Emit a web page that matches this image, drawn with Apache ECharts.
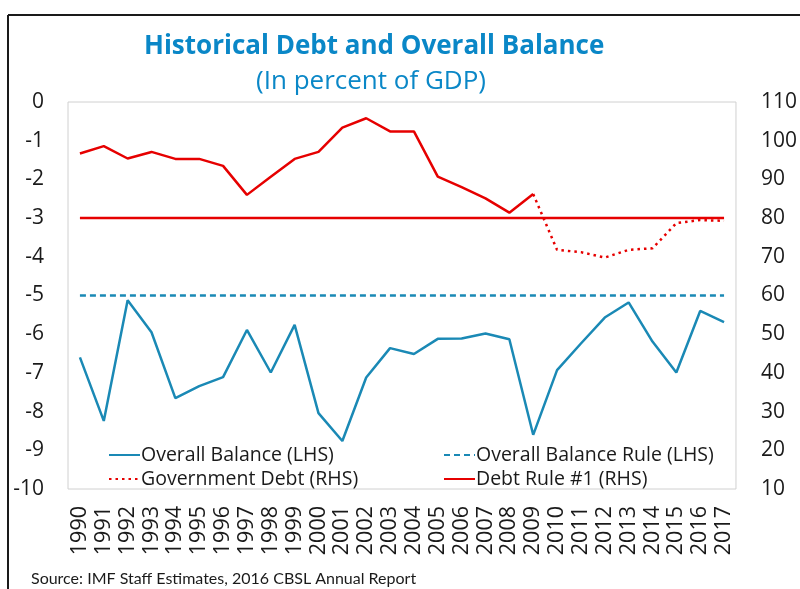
<!DOCTYPE html>
<html>
<head>
<meta charset="utf-8">
<script src="https://cdn.jsdelivr.net/npm/echarts@6/dist/echarts.min.js"></script>
<style>html,body{margin:0;padding:0;background:#fff}#c{width:800px;height:589px}</style>
</head>
<body>
<div id="c"></div>
<script>
var years = ['1990','1991','1992','1993','1994','1995','1996','1997','1998','1999','2000','2001','2002','2003','2004','2005','2006','2007','2008','2009','2010','2011','2012','2013','2014','2015','2016','2017'];
var overallBalance = [-6.6,-8.24,-5.12,-5.95,-7.65,-7.34,-7.11,-5.89,-6.99,-5.76,-8.04,-8.76,-7.12,-6.36,-6.51,-6.12,-6.11,-5.98,-6.13,-8.6,-6.93,-6.24,-5.57,-5.18,-6.19,-6.99,-5.4,-5.69];
var balanceRule = [-5,-5,-5,-5,-5,-5,-5,-5,-5,-5,-5,-5,-5,-5,-5,-5,-5,-5,-5,-5,-5,-5,-5,-5,-5,-5,-5,-5];
var debtActual = [96.7,98.6,95.4,97.1,95.3,95.3,93.5,86.0,90.7,95.3,97.1,103.4,105.8,102.4,102.4,90.7,88.0,85.1,81.4,86.2,null,null,null,null,null,null,null,null];
var debtProjected = [null,null,null,null,null,null,null,null,null,null,null,null,null,null,null,null,null,null,null,86.2,71.8,71.2,69.8,71.8,72.2,78.7,79.5,79.3];
var debtRule = [80,80,80,80,80,80,80,80,80,80,80,80,80,80,80,80,80,80,80,80,80,80,80,80,80,80,80,80];
var leftTicks = {min: -10, max: 0, interval: 1};
var rightTicks = {min: 10, max: 110, interval: 10};

var BLUE = '#1a89b5', RED = '#e60000', FONT = 'Open Sans';
var legendBase = {orient: 'vertical', top: 440, itemWidth: 31, itemHeight: 12, itemGap: 4,
  itemStyle: {opacity: 0},
  textStyle: {fontFamily: FONT, fontSize: 19.5, color: '#1a1a1a', lineHeight: 20, padding: [0,0,0,-4]}};
var chart = echarts.init(document.getElementById('c'), null, {renderer: 'canvas'});
chart.setOption({
  animation: false,
  backgroundColor: '#fff',
  graphic: [
    {type: 'line', shape: {x1: 8, y1: 15, x2: 800, y2: 15}, style: {stroke: '#1a1a1a', lineWidth: 2}},
    {type: 'line', shape: {x1: 8, y1: 15, x2: 8, y2: 589}, style: {stroke: '#1a1a1a', lineWidth: 2}},
    {type: 'text', left: 144, top: 34, style: {text: 'Historical Debt and Overall Balance', fill: '#0a87c7', font: 'bold 26px "Open Sans"'}},
    {type: 'text', left: 256, top: 69, style: {text: '(In percent of GDP)', fill: '#0a87c7', font: '26px "Open Sans"'}},
    {type: 'text', left: 31, top: 571, style: {text: 'Source: IMF Staff Estimates, 2016 CBSL Annual Report', fill: '#1a1a1a', font: '16px Lato'}}
  ],
  grid: {left: 68, right: 61, top: 102, bottom: 100, show: true, borderColor: '#d0d0d0', borderWidth: 1, containLabel: false},
  legend: [
    Object.assign({left: 103, data: ['Overall Balance (LHS)', 'Government Debt (RHS)']}, legendBase),
    Object.assign({left: 438, data: ['Overall Balance Rule (LHS)', 'Debt Rule #1 (RHS)']}, legendBase)
  ],
  xAxis: {
    type: 'category', data: years, boundaryGap: true,
    axisLine: {show: false}, axisTick: {show: false}, splitLine: {show: false},
    axisLabel: {rotate: 90, interval: 0, margin: 17, fontFamily: FONT, fontSize: 21.5, color: '#1a1a1a'}
  },
  yAxis: [
    {type: 'value', min: leftTicks.min, max: leftTicks.max, interval: leftTicks.interval,
     axisLine: {show: false}, axisTick: {show: false}, splitLine: {show: false},
     axisLabel: {margin: 24, fontFamily: FONT, fontSize: 21, color: '#1a1a1a'}},
    {type: 'value', min: rightTicks.min, max: rightTicks.max, interval: rightTicks.interval, position: 'right',
     axisLine: {show: false}, axisTick: {show: false}, splitLine: {show: false},
     axisLabel: {margin: 25, fontFamily: FONT, fontSize: 21, color: '#1a1a1a'}}
  ],
  series: [
    {name: 'Overall Balance (LHS)', type: 'line', yAxisIndex: 0, data: overallBalance, showSymbol: false, symbol: 'none',
     lineStyle: {color: BLUE, width: 2.5}, itemStyle: {color: BLUE}},
    {name: 'Overall Balance Rule (LHS)', type: 'line', yAxisIndex: 0, data: balanceRule, showSymbol: false, symbol: 'none',
     lineStyle: {color: BLUE, width: 2.5, type: [6, 4]}, itemStyle: {color: BLUE}},
    {name: 'Government Debt (RHS)', type: 'line', yAxisIndex: 1, data: debtProjected, showSymbol: false, symbol: 'none',
     lineStyle: {color: RED, width: 2.5, type: [2.5, 4]}, itemStyle: {color: RED}},
    {name: 'Debt Rule #1 (RHS)', type: 'line', yAxisIndex: 1, data: debtRule, showSymbol: false, symbol: 'none',
     lineStyle: {color: RED, width: 2.5}, itemStyle: {color: RED}},
    {name: 'Government Debt Actual', type: 'line', yAxisIndex: 1, data: debtActual, showSymbol: false, symbol: 'none',
     lineStyle: {color: RED, width: 2.5}, itemStyle: {color: RED}}
  ]
});
</script>
</body>
</html>
